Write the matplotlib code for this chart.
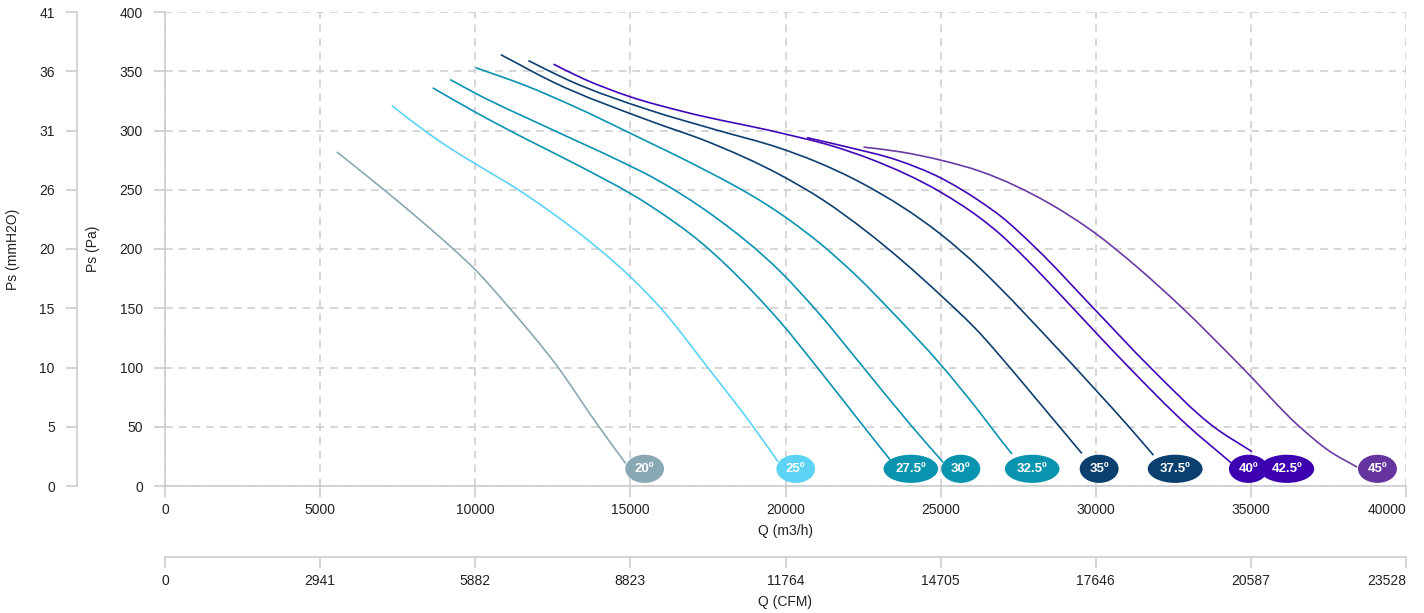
#!/usr/bin/env python3
"""Fan curves Ps vs Q for several blade angles."""

import matplotlib

matplotlib.use("Agg")
import matplotlib.pyplot as plt
from matplotlib.patches import PathPatch
from matplotlib.path import Path

plt.rcParams["font.family"] = ["Liberation Sans", "DejaVu Sans"]

# curve points (Q in m3/h, Ps in Pa)
q_20 = [5535, 6986, 8200, 9290, 10000, 11060, 12630, 13960, 14850]
p_20 = [282, 251.5, 225, 200, 182.5, 151.5, 101.5, 51, 19]

q_25 = [7310, 8383, 9190, 10000, 11445, 12500, 13270, 13960, 15000, 16000, 17450, 18960, 19760]
p_25 = [321, 299.5, 285, 272, 249, 230, 215, 200.5, 176.5, 149.5, 101.5, 50, 20.5]

q_275 = [8630, 10000, 11660, 13060, 15640, 17300, 18960, 19830, 21010, 22510, 23375]
p_275 = [336, 315.5, 292.5, 274, 236.5, 205, 163.5, 138.5, 100.5, 50.5, 22]

q_30 = [9190, 10000, 12500, 14600, 15640, 17700, 19830, 21000, 22450, 24050, 25080]
p_30 = [343, 331.5, 300.5, 275, 261.5, 227.5, 181, 148, 102, 51, 20]

q_325 = [10015, 11660, 13000, 15640, 16700, 20150, 21100, 22300, 23500, 25000, 26280, 26920, 27300]
p_325 = [353, 337.5, 322.5, 289.5, 276, 224, 205, 177, 145, 102.5, 61.5, 39.5, 27]

q_35 = [10822, 12500, 15640, 17500, 19830, 21200, 22600, 25000, 26280, 26920, 28000, 29550]
p_35 = [364, 341, 308, 290.5, 262.5, 241.5, 215, 161, 128.5, 109.5, 76, 27.5]

q_375 = [11713, 13000, 15640, 17700, 19830, 20960, 22500, 25000, 26280, 26920, 28500, 30000, 31000, 31860]
p_375 = [359, 342.5, 317, 301, 285, 274, 255, 212.5, 183.5, 167, 123.5, 81, 52, 26]

q_40 = [12520, 13500, 14990, 16700, 19830, 21500, 22830, 25000, 26280, 26920, 27350, 29180, 30000, 31000, 32940, 34390]
p_40 = [356, 343.5, 328.5, 316, 298, 287, 275, 248, 226, 212.5, 202, 152.5, 129.5, 102, 51.5, 19]

q_425 = [20690, 22000, 23600, 25000, 26280, 26920, 28100, 29930, 31760, 33800, 35035]
p_425 = [294, 286, 275, 260, 240, 228, 200, 150, 100, 50, 29]

q_45 = [22514, 23700, 25000, 26280, 28500, 30000, 31300, 32720, 34700, 36550, 37500, 38420]
p_45 = [286, 282, 275, 265.5, 238.5, 213, 185.5, 152, 100.5, 50.5, 30, 16]

angle_labels = ["20º", "25º", "27.5º", "30º", "32.5º", "35º", "37.5º", "40º", "42.5º", "45º"]
label_q = [15460, 20330, 24040, 25650, 27950, 30110, 32560, 34920, 36160, 39080]
label_p = 14.5

line_colors = ["#8aa8b4", "#5cd3f5", "#0a93b0", "#0a93b0", "#0a93b0",
               "#0d3f6e", "#0d3f6e", "#4106b8", "#4106b8", "#6a3ba2"]
bubble_colors = ["#8aa8b4", "#5cd3f5", "#0893ae", "#0893ae", "#0893ae",
                 "#0b3f6e", "#0b3f6e", "#3d00b0", "#3d00b0", "#66349e"]

q_ticks = [0, 5000, 10000, 15000, 20000, 25000, 30000, 35000, 40000]
cfm_labels = ["0", "2941", "5882", "8823", "11764", "14705", "17646", "20587", "23528"]
pa_ticks = [0, 50, 100, 150, 200, 250, 300, 350, 400]
mmh2o_labels = ["0", "5", "10", "15", "20", "26", "31", "36", "41"]

GRID = "#cccccc"
TEXT = "#222222"


def spline_path(q, p):
    # smooth line through the read points: cubic Bezier segments with
    # tangents taken from the neighbouring chords
    n = len(q)
    h = [q[i + 1] - q[i] for i in range(n - 1)]
    d = [(p[i + 1] - p[i]) / h[i] for i in range(n - 1)]
    m = [d[0]]
    for i in range(1, n - 1):
        m.append((h[i] * d[i - 1] + h[i - 1] * d[i]) / (h[i - 1] + h[i]))
    m.append(d[-1])
    verts = [(q[0], p[0])]
    codes = [Path.MOVETO]
    for i in range(n - 1):
        t = h[i] / 3
        verts += [(q[i] + t, p[i] + m[i] * t), (q[i + 1] - t, p[i + 1] - m[i + 1] * t), (q[i + 1], p[i + 1])]
        codes += [Path.CURVE4] * 3
    return Path(verts, codes)


def main() -> None:
    fig = plt.figure(figsize=(14.24, 6.13), dpi=100)
    ax = fig.add_axes([165 / 1424, 1 - 486 / 613, 1241 / 1424, 474 / 613])

    curves = [(q_20, p_20), (q_25, p_25), (q_275, p_275), (q_30, p_30), (q_325, p_325),
              (q_35, p_35), (q_375, p_375), (q_40, p_40), (q_425, p_425), (q_45, p_45)]
    for (q, p), color in zip(curves, line_colors):
        ax.add_patch(PathPatch(spline_path(q, p), fill=False, edgecolor=color,
                               lw=1.2, capstyle="butt", zorder=3))

    for lab, lq, color in zip(angle_labels, label_q, bubble_colors):
        ax.text(lq, label_p, lab, ha="center", va="center", color="white",
                fontsize=9.5, fontweight="bold", zorder=5,
                bbox=dict(boxstyle="ellipse,pad=0.3", fc=color, ec="none"))

    ax.set_xlim(0, 40000)
    ax.set_ylim(0, 400)
    ax.set_xticks(q_ticks, labels=[str(v) for v in q_ticks])
    ax.set_yticks(pa_ticks, labels=[str(v) for v in pa_ticks])
    ax.get_xticklabels()[-1].set_horizontalalignment("right")
    ax.grid(True, color=GRID, ls=(0, (5, 4)), lw=1.1, zorder=0)
    ax.set_axisbelow(True)
    for side in ["top", "right"]:
        ax.spines[side].set_visible(False)
    for side in ["left", "bottom"]:
        ax.spines[side].set_color(GRID)
        ax.spines[side].set_linewidth(1.2)
    ax.tick_params(axis="both", color=GRID, labelcolor=TEXT, labelsize=10, length=8, width=1.2)
    ax.tick_params(axis="y", pad=8)
    ax.tick_params(axis="x", pad=4)
    ax.set_xlabel("Q (m3/h)", fontsize=10, color=TEXT, labelpad=5)
    ax.set_ylabel("Ps (Pa)", fontsize=10, color=TEXT)
    ax.yaxis.set_label_coords(-0.0524, 0.5)

    # second y axis: same positions, mmH2O labels
    ax2 = ax.twinx()
    ax2.set_ylim(0, 400)
    ax2.yaxis.set_ticks_position("left")
    ax2.yaxis.set_label_position("left")
    ax2.spines["left"].set_position(("axes", (77 - 165) / 1241))
    ax2.spines["left"].set_visible(True)
    ax2.spines["left"].set_color(GRID)
    ax2.spines["left"].set_linewidth(1.2)
    for side in ["top", "right", "bottom"]:
        ax2.spines[side].set_visible(False)
    ax2.set_yticks(pa_ticks, labels=mmh2o_labels)
    ax2.tick_params(axis="y", color=GRID, labelcolor=TEXT, labelsize=10, length=8, width=1.2, pad=8)
    ax2.set_ylabel("Ps (mmH2O)", fontsize=10, color=TEXT)
    ax2.yaxis.set_label_coords(-0.1168, 0.5)

    # second x axis: same positions, CFM labels
    ax3 = ax.twiny()
    ax3.set_xlim(0, 40000)
    ax3.xaxis.set_ticks_position("bottom")
    ax3.xaxis.set_label_position("bottom")
    ax3.spines["bottom"].set_position(("outward", 71 * 0.72))
    ax3.spines["bottom"].set_visible(True)
    ax3.spines["bottom"].set_color(GRID)
    ax3.spines["bottom"].set_linewidth(1.2)
    for side in ["top", "right", "left"]:
        ax3.spines[side].set_visible(False)
    ax3.set_xticks(q_ticks, labels=cfm_labels)
    ax3.get_xticklabels()[-1].set_horizontalalignment("right")
    ax3.tick_params(axis="x", color=GRID, labelcolor=TEXT, labelsize=10, length=8, width=1.2, pad=4)
    ax3.set_xlabel("Q (CFM)", fontsize=10, color=TEXT, labelpad=5)

    fig.savefig("out.png", dpi=100)
    plt.close(fig)


if __name__ == "__main__":
    main()
